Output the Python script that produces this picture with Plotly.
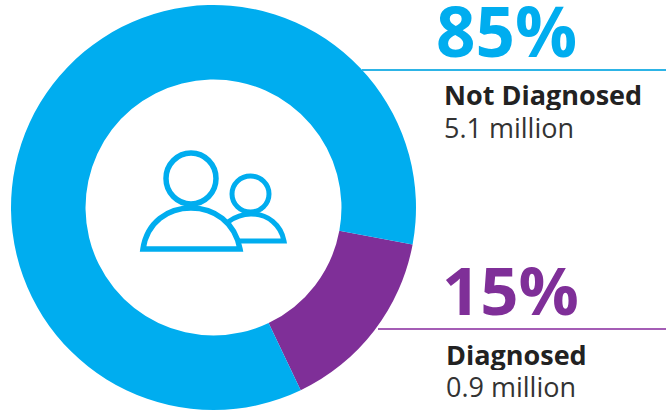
import plotly.graph_objects as go

labels = ["Diagnosed", "Not Diagnosed"]
shares = [15, 85]
millions = ["0.9 million", "5.1 million"]
BLUE = "#00ADEF"
PURPLE = "#7F2F98"
W, H = 669, 415

def px(x):
    return x / W

def py(y):
    return 1 - y / H

def P(x, y):
    return f"{px(x):.5f},{py(y):.5f}"

fig = go.Figure(go.Pie(
    labels=labels, values=shares, hole=0.632, sort=False, direction="clockwise",
    rotation=100.5, textinfo="none", showlegend=False, hoverinfo="label+percent",
    marker=dict(colors=[PURPLE, BLUE], line=dict(width=0)),
    domain=dict(x=[px(11), px(416)], y=[py(410), py(5)]),
))

shapes = [
    dict(type="line", xref="paper", yref="paper", x0=px(362), x1=px(666), y0=py(70), y1=py(70),
         line=dict(color="#2DB4E6", width=2)),
    dict(type="line", xref="paper", yref="paper", x0=px(378), x1=px(666), y0=py(329), y1=py(329),
         line=dict(color="#A45DB5", width=2)),
    dict(type="circle", xref="paper", yref="paper", x0=px(166), x1=px(216), y0=py(204), y1=py(153),
         line=dict(color=BLUE, width=5.5)),
    dict(type="circle", xref="paper", yref="paper", x0=px(232), x1=px(269), y0=py(212), y1=py(176),
         line=dict(color=BLUE, width=5)),
    dict(type="path", xref="paper", yref="paper",
         path=f"M{P(143,249)} C{P(147,222)} {P(168,208)} {P(191,208)} C{P(214,208)} {P(235,222)} {P(240,249)} Z",
         line=dict(color=BLUE, width=5.5)),
    dict(type="path", xref="paper", yref="paper",
         path=f"M{P(228,222)} C{P(236,216)} {P(244,214)} {P(251,214)} C{P(268,214)} {P(281,225)} {P(284,241)} L{P(238,241)}",
         line=dict(color=BLUE, width=5)),
]

FONT = "Open Sans"
def note(x, y, text, size, color, box, bold=False):
    return dict(xref="paper", yref="paper", x=px(x), y=py(y), xanchor="left", yanchor="middle",
                showarrow=False, height=box, text=f"<b>{text}</b>" if bold else text,
                font=dict(family=FONT, size=size, color=color))

annotations = [
    note(434, 30, f"{shares[1]}%", 69, BLUE, 58, True),
    note(442, 95, labels[1], 27, "#222222", 31, True),
    note(442, 127, millions[1], 27, "#333333", 31),
    note(440, 289, f"{shares[0]}%", 67, PURPLE, 58, True),
    note(444, 354, labels[0], 27, "#222222", 31, True),
    note(444, 386, millions[0], 27, "#333333", 31),
]

fig.update_layout(width=W, height=H, margin=dict(l=0, r=0, t=0, b=0), paper_bgcolor="white",
                  shapes=shapes, annotations=annotations)
fig.write_html("out.html", config={"displayModeBar": False},
               post_script="document.body.style.margin='0';")
